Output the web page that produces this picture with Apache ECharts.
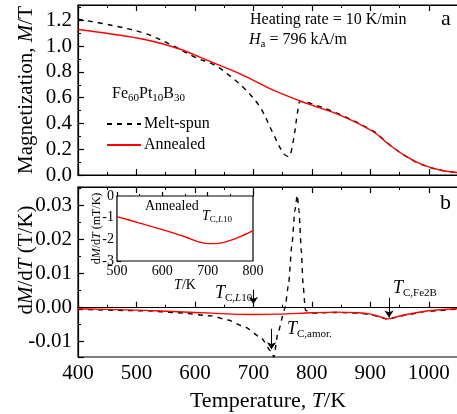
<!DOCTYPE html>
<html>
<head>
<meta charset="utf-8">
<script src="https://cdn.jsdelivr.net/npm/echarts@6/dist/echarts.min.js"></script>
<style>
  html, body { margin: 0; padding: 0; background: #fff; }
  #chart { width: 457px; height: 414px; }
</style>
</head>
<body>
<div id="chart"></div>
<script>
// panel a: magnetization M (T) vs temperature (K)
const tempMeltM = [400, 457, 514, 560, 600, 635, 662, 685, 711, 734, 751, 760, 768, 776, 780, 791, 848, 905, 933, 962, 990, 1019, 1050];
const meltM     = [1.21, 1.163, 1.10, 1.01, 0.915, 0.85, 0.762, 0.67, 0.53, 0.32, 0.17, 0.142, 0.26, 0.50, 0.57, 0.565, 0.47, 0.34, 0.235, 0.142, 0.078, 0.039, 0.018];
const tempAnnM  = [400, 457, 514, 571, 628, 680, 734, 791, 848, 905, 933, 962, 990, 1019, 1050];
const annM      = [1.13, 1.095, 1.052, 0.982, 0.878, 0.78, 0.659, 0.556, 0.465, 0.336, 0.233, 0.142, 0.078, 0.039, 0.018];

// panel b: dM/dT (T/K)
const tempMeltD = [400, 514, 571, 628, 656, 685, 713, 730, 735, 742, 754, 760, 766, 771, 775, 778, 782, 785, 789, 800, 840, 880, 900, 915, 930, 945, 962, 1000, 1050];
const meltD     = [-0.0005, -0.0009, -0.0015, -0.0024, -0.0036, -0.0056, -0.0088, -0.0128, -0.0146, -0.0073, -0.0002, 0.0067, 0.0187, 0.0286, 0.0331, 0.0286, 0.0166, 0.0067, -0.0008, -0.0016, -0.0014, -0.0016, -0.002, -0.0027, -0.0034, -0.0028, -0.0021, -0.001, -0.0004];
const tempAnnD  = [400, 514, 571, 628, 696, 742, 800, 840, 880, 900, 915, 930, 945, 962, 1000, 1050];
const annD      = [-0.0003, -0.0008, -0.0012, -0.0016, -0.002, -0.0019, -0.0015, -0.0013, -0.0015, -0.0019, -0.0026, -0.0033, -0.0027, -0.002, -0.0009, -0.0003];

// inset: annealed dM/dT (mT/K)
const tempInset = [500, 550, 600, 650, 680, 700, 720, 750, 780, 800];
const annInset  = [-0.95, -1.25, -1.55, -1.88, -2.12, -2.2, -2.2, -2.05, -1.8, -1.6];

const FONT = 'Liberation Serif, Times New Roman, serif';
const pairs = (xs, ys) => xs.map((x, i) => [x, ys[i]]);

const tickStyle = { inside: true, length: 6, lineStyle: { color: '#000', width: 1.2 } };
const minor = { show: true, splitNumber: 2, length: 3, lineStyle: { color: '#000', width: 1 } };
const line = { show: true, lineStyle: { color: '#000', width: 1.2 } };

function xAx(grid, extra){
  return Object.assign({
    type: 'value', gridIndex: grid, min: 400, max: 1050, interval: 100,
    axisLine: line, axisTick: tickStyle, minorTick: minor,
    splitLine: { show: false },
    axisLabel: { show: false }
  }, extra || {});
}

const chart = echarts.init(document.getElementById('chart'));

const rich = {
  n: { fontFamily: FONT, fontSize: 18, color: '#000', lineHeight: 21 },
  i: { fontFamily: FONT, fontSize: 18, fontStyle: 'italic', color: '#000', lineHeight: 21 },
  s: { fontFamily: FONT, fontSize: 11, color: '#000', lineHeight: 11, verticalAlign: 'bottom' },
  si: { fontFamily: FONT, fontSize: 11, fontStyle: 'italic', color: '#000', lineHeight: 11, verticalAlign: 'bottom' }
};
const richSmall = {
  n: { fontFamily: FONT, fontSize: 16, color: '#000', lineHeight: 19 },
  i: { fontFamily: FONT, fontSize: 16, fontStyle: 'italic', color: '#000', lineHeight: 19 },
  s: { fontFamily: FONT, fontSize: 11, color: '#000', lineHeight: 10, verticalAlign: 'bottom' }
};
const richInset = {
  i: { fontFamily: FONT, fontSize: 14, fontStyle: 'italic', color: '#000', lineHeight: 16 },
  s: { fontFamily: FONT, fontSize: 9, color: '#000', lineHeight: 9, verticalAlign: 'bottom' },
  si: { fontFamily: FONT, fontSize: 9, fontStyle: 'italic', color: '#000', lineHeight: 9, verticalAlign: 'bottom' }
};

function txt(left, top, text, r){
  return { type: 'text', left, top, z: 100, style: { text, rich: r, font: '16px ' + FONT } };
}

const arrowStyle = { color: '#000', type: 'solid', width: 1 };

chart.setOption({
  animation: false,
  textStyle: { fontFamily: FONT, color: '#000' },
  grid: [
    { left: 78, top: 5, width: 380, height: 170, show: true, borderColor: '#000', borderWidth: 1.2, outerBoundsMode: 'none', containLabel: false },
    { left: 78, top: 187, width: 380, height: 170, show: true, borderColor: '#000', borderWidth: 1.2, outerBoundsMode: 'none', containLabel: false },
    { left: 117, top: 196, width: 136, height: 65, show: true, borderColor: '#000', borderWidth: 1.2, backgroundColor: '#fff', z: 10, outerBoundsMode: 'none', containLabel: false }
  ],
  legend: {
    orient: 'vertical', left: 101, top: 111, itemWidth: 34, itemHeight: 12, itemGap: 5,
    itemStyle: { opacity: 0 },
    textStyle: { fontFamily: FONT, fontSize: 16, color: '#000', padding: [0, 0, 0, -2] },
    data: ['Melt-spun', 'Annealed']
  },
  xAxis: [
    xAx(0),
    xAx(0, { position: 'top' }),
    xAx(1, {
      axisLabel: { show: true, fontSize: 21, color: '#000', margin: 6, fontFamily: FONT, formatter: v => String(v) },
      name: '{n|Temperature, }{i|T}{n|/K}', nameLocation: 'middle', nameGap: 33, nameMoveOverlap: false,
      nameTextStyle: { rich: {
        n: { fontFamily: FONT, fontSize: 22, color: '#000' },
        i: { fontFamily: FONT, fontSize: 22, fontStyle: 'italic', color: '#000' }
      } }
    }),
    xAx(1, { position: 'top' }),
    {
      type: 'value', gridIndex: 2, min: 500, max: 800, interval: 100,
      axisLine: line, axisTick: Object.assign({}, tickStyle, { length: 4 }),
      minorTick: Object.assign({}, minor, { length: 2 }), splitLine: { show: false },
      axisLabel: { fontSize: 14, color: '#000', margin: 3, fontFamily: FONT },
      name: '{i|T}{n|/K}', nameLocation: 'middle', nameGap: 17, nameMoveOverlap: false,
      nameTextStyle: { rich: {
        n: { fontFamily: FONT, fontSize: 14, color: '#000' },
        i: { fontFamily: FONT, fontSize: 14, fontStyle: 'italic', color: '#000' }
      } }
    }
  ],
  yAxis: [
    {
      type: 'value', gridIndex: 0, min: 0, max: 1.32, interval: 0.2,
      axisLine: line, axisTick: tickStyle, minorTick: minor, splitLine: { show: false },
      axisLabel: { fontSize: 21, color: '#000', margin: 6, fontFamily: FONT, formatter: v => v.toFixed(1) },
      name: '{n|Magnetization, }{i|M}{n|/T}', nameLocation: 'middle', nameGap: 41, nameRotate: 90, nameMoveOverlap: false,
      nameTextStyle: { rich: {
        n: { fontFamily: FONT, fontSize: 21, color: '#000' },
        i: { fontFamily: FONT, fontSize: 21, fontStyle: 'italic', color: '#000' }
      } }
    },
    {
      type: 'value', gridIndex: 1, min: -0.0145, max: 0.0355, splitNumber: 5,
      axisLine: line, axisTick: tickStyle, minorTick: minor, splitLine: { show: false },
      axisLabel: { fontSize: 21, color: '#000', margin: 6, fontFamily: FONT,
        formatter: v => Math.abs(v) < 1e-9 ? '0.00' : v.toFixed(2) },
      name: '{n|d}{i|M}{n|/d}{i|T}{n| (T/K)}', nameLocation: 'middle', nameGap: 41, nameRotate: 90, nameMoveOverlap: false,
      nameTextStyle: { padding: [0, 0, 0, 24], rich: {
        n: { fontFamily: FONT, fontSize: 21, color: '#000' },
        i: { fontFamily: FONT, fontSize: 21, fontStyle: 'italic', color: '#000' }
      } }
    },
    {
      type: 'value', gridIndex: 2, min: -3, max: 0, interval: 1,
      axisLine: line, axisTick: Object.assign({}, tickStyle, { length: 4 }),
      minorTick: Object.assign({}, minor, { length: 2 }), splitLine: { show: false },
      axisLabel: { fontSize: 14, color: '#000', margin: 3, fontFamily: FONT },
      name: '{n|d}{i|M}{n|/d}{i|T}{n| (mT/K)}', nameLocation: 'middle', nameGap: 14, nameRotate: 90, nameMoveOverlap: false,
      nameTextStyle: { rich: {
        n: { fontFamily: FONT, fontSize: 12, color: '#000' },
        i: { fontFamily: FONT, fontSize: 12, fontStyle: 'italic', color: '#000' }
      } }
    }
  ],
  series: [
    {
      name: 'Melt-spun', type: 'line', xAxisIndex: 0, yAxisIndex: 0, showSymbol: false, symbol: 'none',
      smooth: 0.35, data: pairs(tempMeltM, meltM),
      lineStyle: { color: '#000', width: 1.4, type: [5, 5] }, itemStyle: { color: '#000' }
    },
    {
      name: 'Annealed', type: 'line', xAxisIndex: 0, yAxisIndex: 0, showSymbol: false, symbol: 'none',
      smooth: 0.35, data: pairs(tempAnnM, annM),
      lineStyle: { color: '#ff0000', width: 1.4 }, itemStyle: { color: '#ff0000' }
    },
    {
      name: 'Melt-spun', type: 'line', xAxisIndex: 2, yAxisIndex: 1, showSymbol: false, symbol: 'none',
      smooth: 0.2, smoothMonotone: 'x', data: pairs(tempMeltD, meltD),
      lineStyle: { color: '#000', width: 1.4, type: [5, 5] }
    },
    {
      name: 'Annealed', type: 'line', xAxisIndex: 2, yAxisIndex: 1, showSymbol: false, symbol: 'none',
      smooth: 0.3, data: pairs(tempAnnD, annD),
      lineStyle: { color: '#ff0000', width: 1.4 },
      markLine: {
        silent: true, symbol: ['none', 'arrow'], symbolSize: 7, lineStyle: arrowStyle,
        label: { show: false }, emphasis: { disabled: true },
        data: [
          [{ coord: [700, 0.0053] }, { coord: [700, 0.0011] }],
          [{ coord: [932, 0.0029] }, { coord: [932, -0.0029] }],
          [{ coord: [731, -0.0062] }, { coord: [731, -0.0122] }]
        ]
      }
    },
    {
      name: 'inset', type: 'line', xAxisIndex: 4, yAxisIndex: 2, showSymbol: false, symbol: 'none',
      smooth: 0.3, data: pairs(tempInset, annInset), z: 20,
      lineStyle: { color: '#ff0000', width: 1.4 },
      markLine: {
        silent: true, symbol: ['none', 'arrow'], symbolSize: 6, lineStyle: arrowStyle,
        label: { show: false }, emphasis: { disabled: true },
        data: [ [{ coord: [702, -1.2] }, { coord: [702, -1.98] }] ]
      }
    }
  ],
  graphic: [
    txt(250, 12, '{n|Heating rate = 10 K/min}', richSmall),
    txt(249, 32, '{i|H}{s|a}{n| = 796 kA/m}', richSmall),
    txt(441, 8, '{n|a}', { n: { fontFamily: FONT, fontSize: 22, color: '#000' } }),
    txt(440, 192, '{n|b}', { n: { fontFamily: FONT, fontSize: 22, color: '#000' } }),
    txt(112, 86, '{n|Fe}{s|60}{n|Pt}{s|10}{n|B}{s|30}', richSmall),
    txt(145, 199, '{n|Annealed}', { n: { fontFamily: FONT, fontSize: 14, color: '#000' } }),
    txt(202, 209, '{i|T}{s|C,}{si|L}{s|10}', richInset),
    txt(215, 284, '{i|T}{s|C,}{si|L}{s|10}', rich),
    txt(393, 279, '{i|T}{s|C,Fe2B}', rich),
    txt(287, 320, '{i|T}{s|C,amor.}', rich)
  ]
});
</script>
</body>
</html>
